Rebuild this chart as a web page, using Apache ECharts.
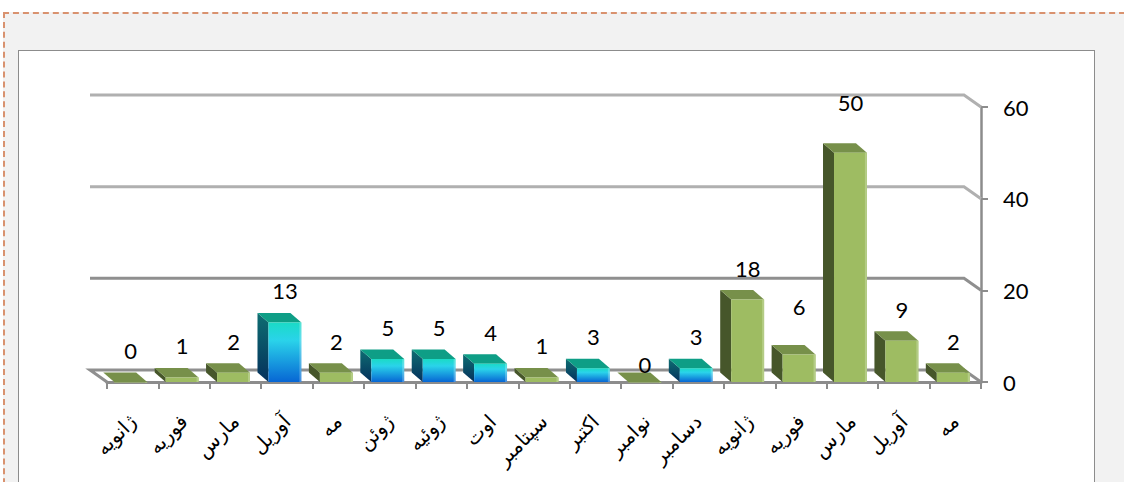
<!DOCTYPE html>
<html>
<head>
<meta charset="utf-8">
<script src="https://cdn.jsdelivr.net/npm/echarts@6/dist/echarts.min.js"></script>
<style>
  html, body { margin: 0; padding: 0; width: 1124px; height: 482px; overflow: hidden; background: #ffffff; }
  #outer { position: absolute; left: 3px; top: 12px; width: 1140px; height: 500px; background: #F2F2F2;
           border-top: 2px dashed #D9926F; border-left: 2px dashed #D9926F; }
  #panel { position: absolute; left: 18px; top: 50px; width: 1075px; height: 460px; background: #ffffff;
           border: 1.5px solid #8C8C8C; }
  #chart { position: absolute; left: 0; top: 0; width: 1124px; height: 482px; }
</style>
</head>
<body>
<div id="outer"></div>
<div id="panel"></div>
<div id="chart"></div>
<script>
// ---- data ----
const categories = ['ژانویه','فوریه','مارس','آوریل','مه','ژوئن','ژوئیه','اوت','سپتامبر','اکتبر','نوامبر','دسامبر','ژانویه','فوریه','مارس','آوریل','مه'];
const values     = [0, 1, 2, 13, 2, 5, 5, 4, 1, 3, 0, 3, 18, 6, 50, 9, 2];
const barKind    = ['g','g','g','b','g','b','b','b','g','b','g','b','g','g','g','g','g'];
const yTicks     = [0, 20, 40, 60];

// label placement tweaks (style, not data): vertical nudge in px for some labels
const labelNudge = { 10: 14, 13: -17, 14: -19 };

const chart = echarts.init(document.getElementById('chart'), null, { renderer: 'svg' });

const DX = -11, DY = -9.5;      // bar depth offset
const WDX = -17, WDY = -12;     // wall depth offset
const NUM_FONT = '22px Lato, "Open Sans", sans-serif';

function barRender(params, api) {
  const idx = api.value(0), v = api.value(1);
  const base = api.coord([idx, 0]);
  const top = api.coord([idx, v]);
  const bw = api.size([1, 0])[0] * 0.64;
  const cx = base[0] - 2;
  const x0 = cx - bw / 2, x1 = cx + bw / 2;
  const yt = top[1], yb = base[1];
  const blue = barKind[idx] === 'b';
  const frontFill = blue
    ? new echarts.graphic.LinearGradient(0, 0, 0, 1, [
        { offset: 0, color: '#1ADBC6' }, { offset: 0.3, color: '#2AD3EA' }, { offset: 1, color: '#0766D4' }])
    : '#9EBC62';
  const sideFill = blue
    ? new echarts.graphic.LinearGradient(0, 0, 0, 1, [
        { offset: 0, color: '#0E6E72' }, { offset: 1, color: '#05305C' }])
    : '#46562A';
  const topFill = blue ? '#0E9E86' : '#77904A';
  const nudge = labelNudge[idx] || 0;
  return {
    type: 'group',
    children: [
      { type: 'polygon', shape: { points: [[x0, yt], [x0 + DX, yt + DY], [x0 + DX, yb + DY], [x0, yb]] },
        style: { fill: sideFill } },
      { type: 'polygon', shape: { points: [[x0, yt], [x1, yt], [x1 + DX, yt + DY], [x0 + DX, yt + DY]] },
        style: { fill: topFill } },
      { type: 'rect', shape: { x: x0, y: yt, width: bw, height: Math.max(yb - yt, 0.5) },
        style: { fill: frontFill } },
      { type: 'rect', shape: { x: x1 - 2, y: yt, width: 2, height: Math.max(yb - yt, 0.5) },
        style: { fill: blue ? 'rgba(255,255,255,0.25)' : '#B4CC86' } },
      { type: 'text', z2: 10, style: { text: String(v), x: cx, y: yt + DY - 22 + nudge, align: 'center', verticalAlign: 'middle',
        font: NUM_FONT, fill: '#000000' } }
    ]
  };
}

function wallRender(params, api) {
  const v = api.value(0);
  const y = api.coord([0, v])[1];
  const cs = params.coordSys;
  const left = cs.x, right = cs.x + cs.width;
  const pts = v === 0
    ? [[left, y], [left + WDX, y + WDY], [right + WDX, y + WDY], [right, y]]
    : [[left + WDX, y + WDY], [right + WDX, y + WDY], [right, y]];
  return {
    type: 'polyline',
    shape: { points: pts },
    style: { stroke: v === 20 || v === 0 ? '#8F8F8F' : '#B0B0B0', lineWidth: 3, fill: null }
  };
}

chart.setOption({
  animation: false,
  grid: { left: 107, right: 143, top: 107, bottom: 100 },
  xAxis: {
    type: 'category',
    data: categories,
    axisLine: { show: true, lineStyle: { color: '#8C8C8C', width: 3 } },
    axisTick: { show: true, interval: 0, length: 7, lineStyle: { color: '#8C8C8C', width: 2 } },
    axisLabel: { interval: 0, rotate: 45, margin: 36, color: '#000000',
                 fontFamily: '"DejaVu Sans", sans-serif', fontSize: 20 },
    splitLine: { show: false }
  },
  yAxis: {
    type: 'value',
    position: 'right',
    min: 0, max: 60, interval: 20,
    axisLine: { show: true, lineStyle: { color: '#8C8C8C', width: 2.5 } },
    axisTick: { show: true, length: 7, lineStyle: { color: '#8C8C8C', width: 2 } },
    axisLabel: { margin: 22, color: '#000000', fontFamily: 'Lato, "Open Sans", sans-serif', fontSize: 22 },
    splitLine: { show: false }
  },
  series: [
    {
      type: 'custom',
      renderItem: wallRender,
      data: yTicks.map(t => [t]),
      encode: { y: 0 },
      silent: true,
      z: 1
    },
    {
      type: 'custom',
      renderItem: barRender,
      data: values.map((v, i) => [i, v]),
      encode: { x: 0, y: 1 },
      z: 2
    }
  ]
});
</script>
</body>
</html>
